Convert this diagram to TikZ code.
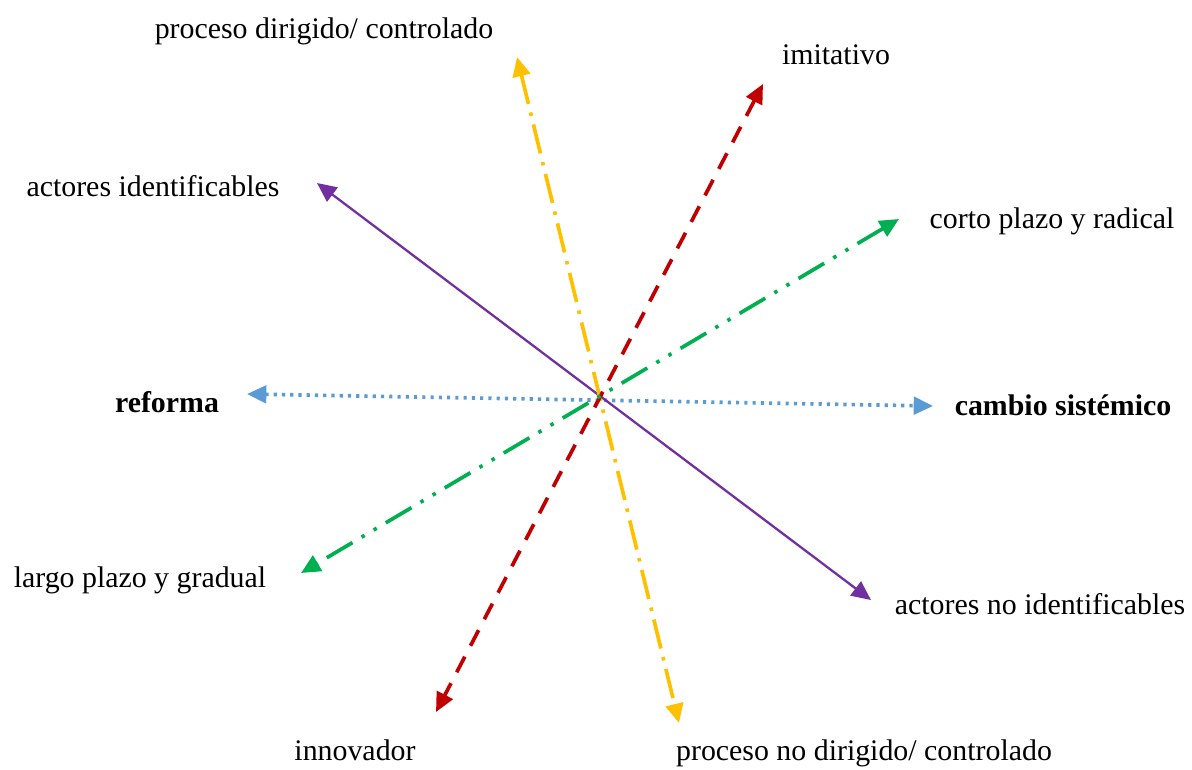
\documentclass[tikz,border=0pt]{standalone}
\usepackage{fontspec}
\setmainfont{Liberation Serif}
\usepackage{xcolor}
\usetikzlibrary{arrows.meta}

\definecolor{lila}{HTML}{7030A0}
\definecolor{amarillo}{HTML}{FFC000}
\definecolor{rojo}{HTML}{C00000}
\definecolor{verde}{HTML}{00B050}
\definecolor{azul}{HTML}{5B9BD5}

\tikzset{
    lbl/.style={inner sep=0pt,font=\fontsize{17}{20}\selectfont},
    eje/.style={line width=2.1pt,{Triangle[length=11pt,width=10pt]}-{Triangle[length=11pt,width=10pt]}},
}

\begin{document}
\begin{tikzpicture}[x=0.02cm,y=-0.02cm]
    \useasboundingbox (0,0) rectangle (1192,769);

    % etiquetas
    \node[lbl] (dir) at (324,31) {proceso dirigido/ controlado};
    \node[lbl] (imi) at (836,55) {imitativo};
    \node[lbl] (ai) at (153,186) {actores identificables};
    \node[lbl] (corto) at (1052,221) {corto plazo y radical};
    \node[lbl,font=\fontsize{17}{20}\selectfont\bfseries] (ref) at (167,402) {reforma};
    \node[lbl,font=\fontsize{17}{20}\selectfont\bfseries] (cs) at (1063,405) {cambio sistémico};
    \node[lbl] (largo) at (140,580) {largo plazo y gradual};
    \node[lbl] (ani) at (1040,604) {actores no identificables};
    \node[lbl] (inno) at (355,750) {innovador};
    \node[lbl] (nodir) at (864,753) {proceso no dirigido/ controlado};

    % puntas de las flechas
    \coordinate (ref-p) at (247,394);
    \coordinate (cs-p) at (933,406);
    \coordinate (ai-p) at (317,183);
    \coordinate (ani-p) at (871,600);
    \coordinate (dir-p) at (517,57);
    \coordinate (nodir-p) at (679,723);
    \coordinate (imi-p) at (763,84);
    \coordinate (inno-p) at (436,712);
    \coordinate (corto-p) at (899,219);
    \coordinate (largo-p) at (301,573);

    \draw[eje,azul,dash pattern=on 1.8pt off 2.9pt] (ref-p) -- (cs-p);
    \draw[eje,lila,line width=1.3pt] (ai-p) -- (ani-p);
    \draw[eje,amarillo,dash pattern=on 17pt off 5pt on 2pt off 5pt] (dir-p) -- (nodir-p);
    \draw[eje,rojo,dash pattern=on 10pt off 7pt] (imi-p) -- (inno-p);
    \draw[eje,verde,dash pattern=on 17pt off 6pt on 2pt off 6pt on 2pt off 6pt] (corto-p) -- (largo-p);
\end{tikzpicture}
\end{document}
